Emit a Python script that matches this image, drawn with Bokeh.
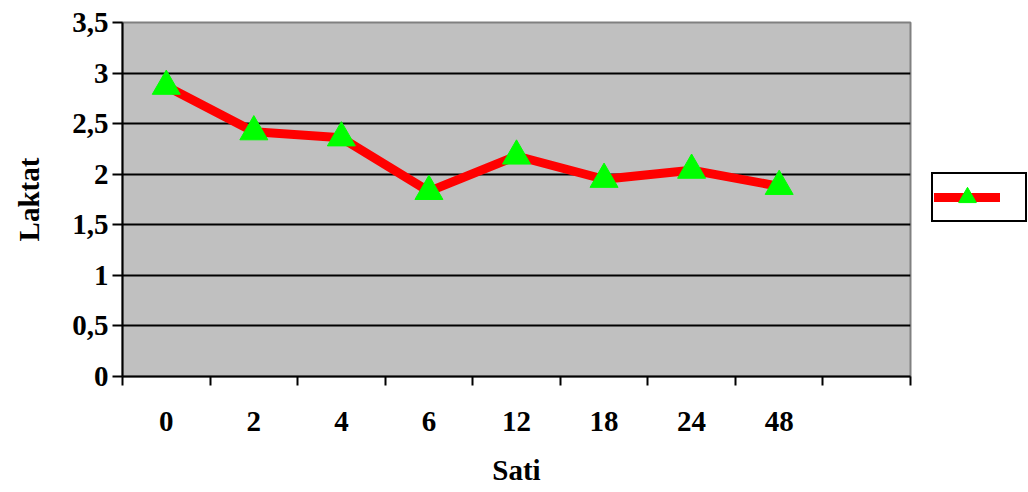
from bokeh.plotting import figure
from bokeh.models import (Range1d, FixedTicker, Legend, LegendItem, ColumnDataSource)
from bokeh.embed import file_html
from bokeh.resources import INLINE

categories = ["0", "2", "4", "6", "12", "18", "24", "48"]
n_slots = 9  # Excel category axis with one empty slot at the end
laktat = [2.87, 2.42, 2.36, 1.83, 2.18, 1.95, 2.04, 1.88]
y_ticks = [0, 0.5, 1, 1.5, 2, 2.5, 3, 3.5]
y_labels = ["0", "0,5", "1", "1,5", "2", "2,5", "3", "3,5"]

xs = [i + 0.5 for i in range(len(categories))]
src = ColumnDataSource(dict(x=xs, y=laktat))

FONT = "Liberation Serif"
FS = "29px"

p = figure(frame_width=788, frame_height=354, output_backend="svg", toolbar_location=None,
           x_range=Range1d(0, n_slots), y_range=Range1d(0, 3.5),
           min_border_left=122, min_border_right=118, min_border_top=22, min_border_bottom=0)
p.background_fill_color = "#C0C0C0"
p.border_fill_color = "white"
p.outline_line_color = "#808080"
p.outline_line_width = 2

# grid
p.xgrid.visible = False
p.ygrid.ticker = FixedTicker(ticks=y_ticks)
p.ygrid.grid_line_color = "black"
p.ygrid.grid_line_width = 2

# x axis
xa = p.xaxis[0]
xa.ticker = FixedTicker(ticks=xs, minor_ticks=list(range(n_slots + 1)))
xa.major_label_overrides = {x: c for x, c in zip(xs, categories)}
xa.major_tick_out = 0
xa.major_tick_in = 0
xa.minor_tick_out = 9
xa.minor_tick_in = 0
xa.minor_tick_line_color = "black"
xa.minor_tick_line_width = 2
xa.axis_line_color = "black"
xa.axis_line_width = 2
xa.major_label_standoff = 26
xa.major_label_text_font = FONT
xa.major_label_text_font_style = "bold"
xa.major_label_text_font_size = FS
xa.major_label_text_color = "black"
xa.axis_label = "Sati"
xa.axis_label_text_font = FONT
xa.axis_label_text_font_style = "bold"
xa.axis_label_text_font_size = FS
xa.axis_label_text_color = "black"
xa.axis_label_standoff = 20

# y axis
ya = p.yaxis[0]
ya.ticker = FixedTicker(ticks=y_ticks)
ya.major_label_overrides = {t: l for t, l in zip(y_ticks, y_labels)}
ya.major_tick_out = 10
ya.major_tick_in = 0
ya.minor_tick_out = 0
ya.minor_tick_in = 0
ya.major_tick_line_width = 2
ya.axis_line_width = 2
ya.axis_line_color = "black"
ya.major_label_standoff = 4
ya.major_label_text_font = FONT
ya.major_label_text_font_style = "bold"
ya.major_label_text_font_size = FS
ya.major_label_text_color = "black"
ya.axis_label = "Laktat"
ya.axis_label_text_font = FONT
ya.axis_label_text_font_style = "bold"
ya.axis_label_text_font_size = FS
ya.axis_label_text_color = "black"
ya.axis_label_standoff = 24

line_r = p.line("x", "y", source=src, line_color="#FF0000", line_width=9,
                line_cap="round", line_join="round")
mark_r = p.scatter("x", "y", source=src, marker="triangle", size=28,
                   fill_color="#00FF00", line_color="#00FF00")

legend = Legend(items=[LegendItem(label=" ", renderers=[line_r, mark_r])],
                location=(21, 154), orientation="vertical",
                border_line_color="black", border_line_width=2, border_line_alpha=1,
                background_fill_color="white", background_fill_alpha=1,
                glyph_width=66, glyph_height=44, padding=1, spacing=0,
                label_standoff=10, label_width=14, label_height=10,
                label_text_font_size="8px", margin=0)
p.add_layout(legend, "right")

open("out.html", "w").write(file_html(p, INLINE))
